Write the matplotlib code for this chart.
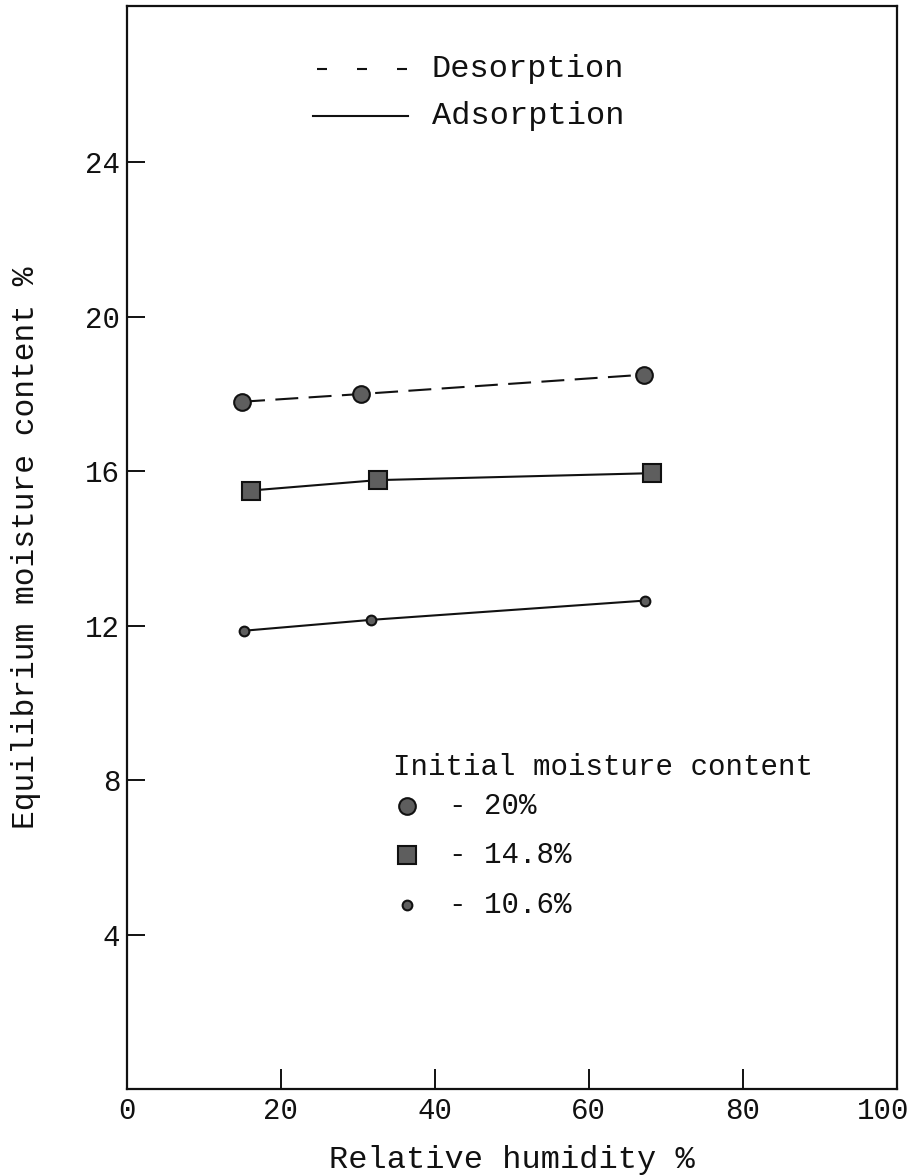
import matplotlib
matplotlib.use("Agg")
import matplotlib.pyplot as plt
from matplotlib.transforms import ScaledTranslation

# Equilibrium moisture content vs relative humidity, three initial moisture contents
rh_20 = [15.0, 30.4, 67.1]
emc_20 = [17.8, 18.0, 18.5]
rh_148 = [16.1, 32.6, 68.2]
emc_148 = [15.5, 15.77, 15.95]
rh_106 = [15.3, 31.7, 67.3]
emc_106 = [11.87, 12.15, 12.65]

x_ticks = [0, 20, 40, 60, 80, 100]
y_ticks = [4, 8, 12, 16, 20, 24]
legend_labels = ["- 20%", "- 14.8%", "- 10.6%"]

INK = "#111111"
FILL = "#5e5e5e"

plt.rcParams["font.family"] = ["Liberation Mono", "DejaVu Sans Mono"]

fig = plt.figure(figsize=(9.13, 11.75), dpi=100)
ax = fig.add_axes([0.1386, 0.0732, 0.8439, 0.9217])

ax.plot(rh_20, emc_20, color=INK, lw=1.5, dashes=(11, 5), zorder=2)
ax.plot(rh_148, emc_148, color=INK, lw=1.5, zorder=2)
ax.plot(rh_106, emc_106, color=INK, lw=1.5, zorder=2)

ax.plot(rh_20, emc_20, "o", ms=12, mfc=FILL, mec=INK, mew=1.5, ls="none", zorder=3)
ax.plot(rh_148, emc_148, "s", ms=12.5, mfc=FILL, mec=INK, mew=1.5, ls="none", zorder=3)
ax.plot(rh_106, emc_106, "o", ms=7, mfc=FILL, mec=INK, mew=1.5, ls="none", zorder=3)

ax.set_xlim(0, 100)
ax.set_ylim(0, 28.05)
ax.set_xticks(x_ticks)
ax.set_yticks(y_ticks)
ax.tick_params(axis="x", direction="in", length=14.5, width=1.4, pad=6,
               labelsize=21, colors=INK)
ax.tick_params(axis="y", direction="in", length=13, width=1.4, pad=4.5,
               labelsize=21, colors=INK)
for sp in ax.spines.values():
    sp.set_linewidth(1.6)
    sp.set_color(INK)

# the last x label sits just inside the corner, as in the original sheet
last = ax.get_xticklabels()[-1]
last.set_transform(last.get_transform()
                   + ScaledTranslation(-0.14, 0, fig.dpi_scale_trans))

ax.set_xlabel("Relative humidity %", fontsize=23, color=INK)
ax.set_ylabel("Equilibrium moisture content %", fontsize=22.5, color=INK)
ax.xaxis.set_label_coords(0.5, -0.052)
ax.yaxis.set_label_coords(-0.111, 0.5)

# line-style key (top)
tr = ax.transAxes
ax.plot([0.247, 0.365], [0.942, 0.942], transform=tr, color=INK, lw=1.5,
        dashes=(4.8, 14.4))
ax.plot([0.242, 0.365], [0.898, 0.898], transform=tr, color=INK, lw=1.5)
ax.text(0.396, 0.942, "Desorption", transform=tr, fontsize=23, va="center",
        color=INK)
ax.text(0.396, 0.898, "Adsorption", transform=tr, fontsize=23, va="center",
        color=INK)

# marker key (lower right)
ax.text(0.346, 0.297, "Initial moisture content", transform=tr, fontsize=21,
        va="center", color=INK)
key_y = [0.261, 0.216, 0.170]
key_style = [("o", 12), ("s", 12.5), ("o", 7)]
for yk, (m, ms), lab in zip(key_y, key_style, legend_labels):
    ax.plot([0.364], [yk], m, ms=ms, mfc=FILL, mec=INK, mew=1.5,
            transform=tr, clip_on=False)
    ax.text(0.418, yk, lab, transform=tr, fontsize=21, va="center", color=INK)

fig.savefig("out.png", dpi=100)
